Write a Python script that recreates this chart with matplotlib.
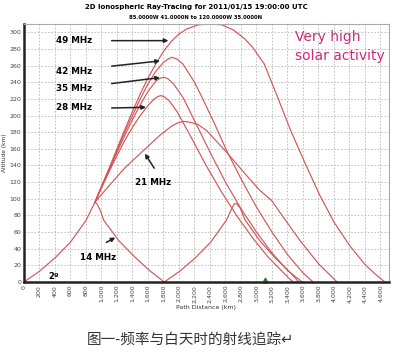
import numpy as np
import matplotlib.pyplot as plt
from matplotlib.ticker import FuncFormatter

# ray paths: (path distance km, altitude km)
launch_d = [0, 200, 400, 600, 800, 916]
launch_a = [0, 13, 29, 48, 74, 96]

f14_d = [916, 940, 980, 1030, 1230, 1430, 1630, 1810, 2010, 2210, 2410, 2610, 2680, 2715, 2745, 2790, 2850, 3040, 3240, 3440, 3545]
f14_a = [96, 94, 87, 74, 49, 30, 13, 0, 13, 29, 48, 74, 88, 94, 94, 89, 75, 50, 29, 11, 0]

f21_d = [916, 1100, 1300, 1518, 1750, 1900, 1980, 2060, 2141, 2250, 2356, 2614, 2872, 3044, 3195, 3300, 3560, 3800, 4040]
f21_a = [96, 116, 137, 156, 176, 187, 191, 193, 192, 189, 182, 156, 128, 110, 98, 84, 50, 22, 0]

f28_d = [916, 1000, 1100, 1200, 1300, 1400, 1500, 1600, 1680, 1730, 1770, 1820, 1880, 1980, 2150, 2350, 2550, 2750, 2950, 3150, 3350, 3470]
f28_a = [96, 113, 133, 152, 170, 186, 200, 212, 220, 223, 224, 222, 217, 204, 175, 140, 108, 79, 53, 30, 11, 0]

f35_d = [916, 1000, 1100, 1200, 1300, 1400, 1500, 1600, 1700, 1760, 1810, 1860, 1930, 2050, 2200, 2400, 2600, 2800, 3000, 3200, 3400, 3590]
f35_a = [96, 114, 135, 156, 176, 195, 213, 229, 241, 245, 246, 244, 238, 222, 194, 156, 120, 88, 60, 35, 14, 0]

f42_d = [916, 1000, 1100, 1200, 1300, 1400, 1500, 1600, 1700, 1800, 1860, 1910, 1970, 2050, 2200, 2270, 2450, 2614, 2800, 3000, 3200, 3400, 3600, 3730]
f42_a = [96, 114, 136, 158, 180, 200, 220, 238, 253, 264, 268, 270, 268, 262, 240, 227, 192, 158, 124, 90, 60, 33, 11, 0]

f49_d = [916, 1000, 1100, 1200, 1300, 1400, 1500, 1600, 1700, 1800, 1900, 2000, 2100, 2250, 2400, 2550, 2700, 2850, 2950,
         3100, 3260, 3450, 3650, 3818, 4000, 4200, 4400, 4550, 4657]
f49_a = [96, 115, 137, 160, 183, 205, 226, 245, 262, 277, 289, 298, 304, 309, 310, 309, 303, 292, 282,
         262, 225, 180, 138, 104, 72, 44, 21, 8, 0]

rays = [(f14_d, f14_a), (f21_d, f21_a), (f28_d, f28_a), (f35_d, f35_a), (f42_d, f42_a), (f49_d, f49_a)]

# label text, text position, arrow start, arrow tip
labels = [
    ('49 MHz', (640, 290), (1095, 290), (1900, 290)),
    ('42 MHz', (640, 253), (1095, 259), (1790, 266)),
    ('35 MHz', (640, 232), (1095, 238), (1790, 246)),
    ('28 MHz', (640, 210), (1095, 209), (1610, 210)),
    ('21 MHz', (1660, 120), (1700, 134), (1540, 157)),
    ('14 MHz', (950, 30), (1030, 46), (1210, 55)),
]

line_col = '#d45656'

fig = plt.figure(figsize=(4.0, 3.55), dpi=100)
ax = fig.add_axes([0.06, 0.2056, 0.9125, 0.7268])

ax.plot(launch_d, launch_a, color=line_col, lw=0.85)
for d, a in rays:
    ax.plot(d, a, color=line_col, lw=0.85)

# receiver marker
ax.plot([3110], [3], marker='^', color='#2e7d32', ms=3.5, clip_on=False)

for txt, tpos, start, tip in labels:
    ax.text(tpos[0], tpos[1], txt, fontsize=6.3, fontweight='bold', ha='center', va='center')
    ax.annotate('', xy=tip, xytext=start,
                arrowprops=dict(arrowstyle='-|>', color='#222222', lw=1.1, mutation_scale=6))

ax.text(380, 7, '2\u00ba', fontsize=6, fontweight='bold', ha='center', va='center')

ax.text(3500, 294, 'Very high', fontsize=10, color='#cc2a7a', ha='left', va='center')
ax.text(3500, 272, 'solar activity', fontsize=10, color='#cc2a7a', ha='left', va='center')

ax.set_xlim(0, 4710)
ax.set_ylim(0, 310)
ax.xaxis.set_major_formatter(FuncFormatter(lambda v, p: f'{int(v):,}'))
ax.set_xticks(np.arange(0, 4601, 200))
ax.set_yticks(np.arange(0, 301, 20))
ax.tick_params(axis='x', labelsize=4.5, rotation=90, length=0, pad=2, labelcolor='#444444')
ax.tick_params(axis='y', labelsize=4.5, length=0, pad=2, labelcolor='#444444')
ax.grid(True, color='#b8b8b8', lw=0.6, linestyle=(0, (2, 2)))
ax.set_axisbelow(True)

for side in ['top', 'right']:
    ax.spines[side].set_color('#aaaaaa')
    ax.spines[side].set_linewidth(0.8)
for side in ['left', 'bottom']:
    ax.spines[side].set_color('#222222')
    ax.spines[side].set_linewidth(1.8)

ax.set_xlabel('Path Distance (km)', fontsize=4.5, labelpad=2, color='#333333')
ax.set_ylabel('Altitude (km)', fontsize=4.2, labelpad=2, color='#333333')

fig.text(0.49, 0.980, '2D Ionospheric Ray-Tracing for 2011/01/15 19:00:00 UTC',
         fontsize=5, fontweight='bold', ha='center', va='center')
fig.text(0.49, 0.950, '85.0000W 41.0000N to 120.0000W 35.0000N',
         fontsize=3.8, fontweight='bold', ha='center', va='center')

fig.text(0.475, 0.042, '图一-频率与白天时的射线追踪\u21b5', fontsize=10.5, color='#333333',
         ha='center', va='center', family=['Noto Sans CJK SC', 'DejaVu Sans'])

fig.savefig('out.png', dpi=100)
